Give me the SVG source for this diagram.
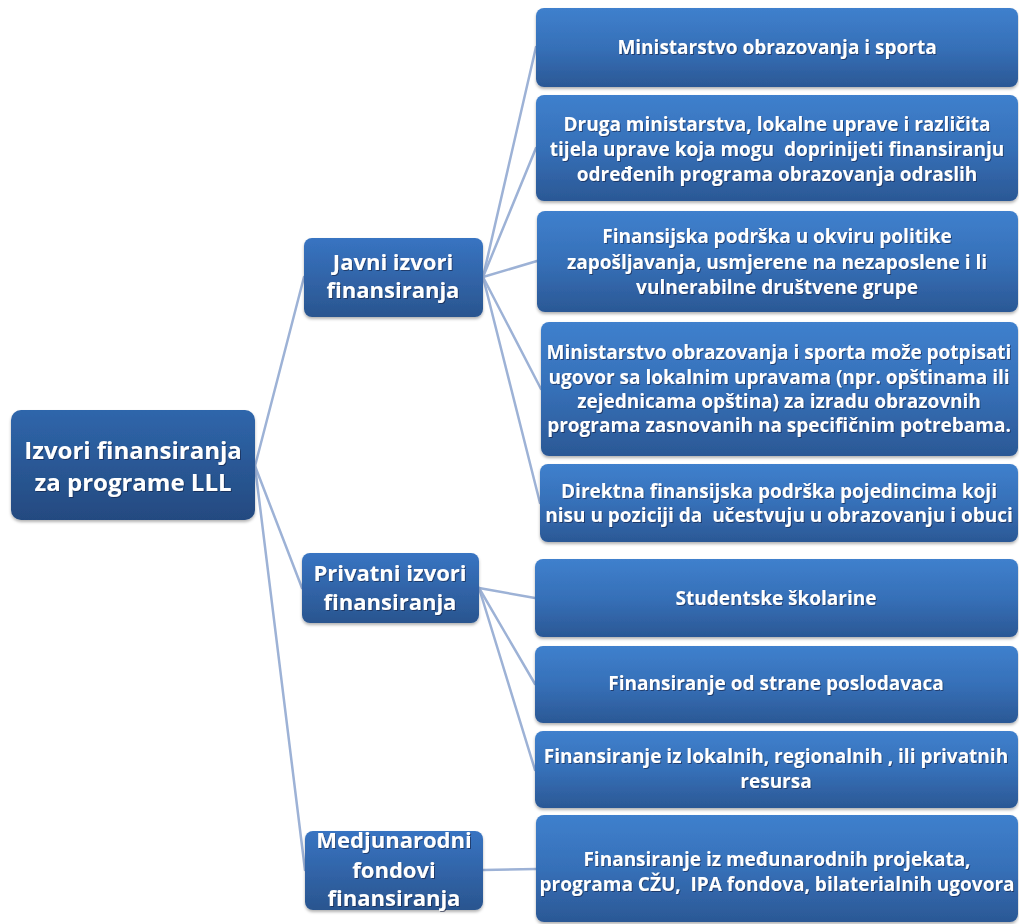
<svg xmlns="http://www.w3.org/2000/svg" width="1019" height="924" viewBox="0 0 1019 924">
<defs>
<linearGradient id="gBox" x1="0" y1="0" x2="0" y2="1">
<stop offset="0" stop-color="#3f80cd"/>
<stop offset="0.5" stop-color="#3670b8"/>
<stop offset="1" stop-color="#2b5895"/>
</linearGradient>
<linearGradient id="gMid" x1="0" y1="0" x2="0" y2="1">
<stop offset="0" stop-color="#3874c2"/>
<stop offset="1" stop-color="#2a558f"/>
</linearGradient>
<linearGradient id="gRoot" x1="0" y1="0" x2="0" y2="1">
<stop offset="0" stop-color="#2f66ab"/>
<stop offset="1" stop-color="#244a80"/>
</linearGradient>
<filter id="sh" x="-5%" y="-5%" width="110%" height="115%">
<feDropShadow dx="0" dy="2" stdDeviation="1.5" flood-color="#000" flood-opacity="0.3"/>
</filter>
<filter id="tsh" x="-5%" y="-20%" width="110%" height="140%">
<feDropShadow dx="1" dy="1" stdDeviation="0.6" flood-color="#0d2340" flood-opacity="0.6"/>
</filter>
</defs>
<style>
.conn{stroke:#9db2d6;stroke-width:2.5;fill:none;stroke-linecap:round}
.box{fill:url(#gBox);filter:url(#sh)}
.mid{fill:url(#gMid);filter:url(#sh)}
.root{fill:url(#gRoot);filter:url(#sh)}
text{font-family:"Open Sans",Lato,"Liberation Sans",sans-serif;font-weight:bold;fill:#fff;text-anchor:middle;filter:url(#tsh);white-space:pre}
.t{font-size:19px}
.tm{font-size:22px}
.tr{font-size:24px}
</style>
<rect width="1019" height="924" fill="#fff"/>
<g id="connectors">
<line class="conn" x1="255" y1="466" x2="304" y2="277"/>
<line class="conn" x1="255" y1="466" x2="302" y2="588"/>
<line class="conn" x1="255" y1="466" x2="305" y2="870"/>
<line class="conn" x1="483" y1="277" x2="536" y2="47"/>
<line class="conn" x1="483" y1="277" x2="536" y2="148"/>
<line class="conn" x1="483" y1="277" x2="537" y2="261"/>
<line class="conn" x1="483" y1="277" x2="541" y2="389"/>
<line class="conn" x1="483" y1="277" x2="540" y2="503"/>
<line class="conn" x1="479" y1="588" x2="535" y2="598"/>
<line class="conn" x1="479" y1="588" x2="535" y2="684"/>
<line class="conn" x1="479" y1="588" x2="535" y2="770"/>
<line class="conn" x1="483" y1="870" x2="536" y2="869"/>
</g>
<g id="root">
<rect class="root" x="11" y="410" width="244" height="110" rx="10"/>
<text class="tr" x="133" y="459">Izvori finansiranja</text>
<text class="tr" x="133" y="491">za programe LLL</text>
</g>
<g id="javni">
<rect class="mid" x="304" y="238" width="179" height="79" rx="8"/>
<text class="tm" x="393" y="270">Javni izvori</text>
<text class="tm" x="393" y="298">finansiranja</text>
</g>
<g id="privatni">
<rect class="mid" x="302" y="553" width="177" height="70" rx="8"/>
<text class="tm" x="390" y="581">Privatni izvori</text>
<text class="tm" x="390" y="610">finansiranja</text>
</g>
<g id="medjunarodni">
<rect class="mid" x="305" y="831" width="178" height="79" rx="8"/>
<text class="tm" x="394" y="848">Medjunarodni</text>
<text class="tm" x="394" y="878">fondovi</text>
<text class="tm" x="394" y="906">finansiranja</text>
</g>
<g id="n1">
<rect class="box" x="536" y="8" width="482" height="79" rx="8"/>
<text class="t" x="777" y="54">Ministarstvo obrazovanja i sporta</text>
</g>
<g id="n2">
<rect class="box" x="536" y="95" width="482" height="106" rx="8"/>
<text class="t" x="777" y="131">Druga ministarstva, lokalne uprave i različita</text>
<text class="t" x="777" y="156">tijela uprave koja mogu  doprinijeti finansiranju</text>
<text class="t" x="777" y="181">određenih programa obrazovanja odraslih</text>
</g>
<g id="n3">
<rect class="box" x="537" y="211" width="481" height="101" rx="8"/>
<text class="t" x="777" y="243">Finansijska podrška u okviru politike</text>
<text class="t" x="777" y="269">zapošljavanja, usmjerene na nezaposlene i li</text>
<text class="t" x="777" y="294">vulnerabilne društvene grupe</text>
</g>
<g id="n4">
<rect class="box" x="541" y="322" width="477" height="134" rx="8"/>
<text class="t" x="779" y="359">Ministarstvo obrazovanja i sporta može potpisati</text>
<text class="t" x="779" y="384">ugovor sa lokalnim upravama (npr. opštinama ili</text>
<text class="t" x="779" y="408">zejednicama opština) za izradu obrazovnih</text>
<text class="t" x="779" y="432">programa zasnovanih na specifičnim potrebama.</text>
</g>
<g id="n5">
<rect class="box" x="540" y="464" width="478" height="78" rx="8"/>
<text class="t" x="779" y="498">Direktna finansijska podrška pojedincima koji</text>
<text class="t" x="779" y="522">nisu u poziciji da  učestvuju u obrazovanju i obuci</text>
</g>
<g id="n6">
<rect class="box" x="535" y="559" width="483" height="78" rx="8"/>
<text class="t" x="776" y="605">Studentske školarine</text>
</g>
<g id="n7">
<rect class="box" x="535" y="646" width="483" height="77" rx="8"/>
<text class="t" x="776" y="690">Finansiranje od strane poslodavaca</text>
</g>
<g id="n8">
<rect class="box" x="535" y="731" width="483" height="77" rx="8"/>
<text class="t" x="776" y="763">Finansiranje iz lokalnih, regionalnih , ili privatnih</text>
<text class="t" x="776" y="788">resursa</text>
</g>
<g id="n9">
<rect class="box" x="536" y="815" width="482" height="107" rx="8"/>
<text class="t" x="777" y="866">Finansiranje iz međunarodnih projekata,</text>
<text class="t" x="777" y="891">programa CŽU,  IPA fondova, bilaterialnih ugovora</text>
</g>
</svg>
